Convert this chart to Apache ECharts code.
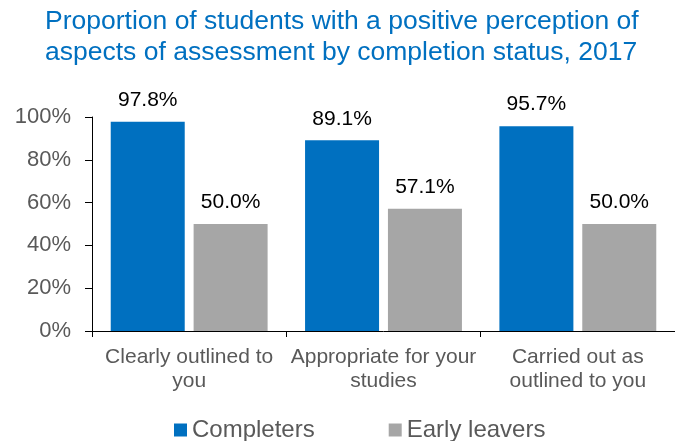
<!DOCTYPE html>
<html>
<head>
<meta charset="utf-8">
<script src="https://cdn.jsdelivr.net/npm/echarts@6/dist/echarts.min.js"></script>
<style>
  html, body { margin: 0; padding: 0; background: #ffffff; }
  #chart { width: 675px; height: 441px; }
</style>
</head>
<body>
<div id="chart"></div>
<script>
// Survey aspects (x categories)
const categories = ['Clearly outlined to\nyou', 'Appropriate for your\nstudies', 'Carried out as\noutlined to you'];
// Share of students with a positive perception (%)
const completers = [97.8, 89.1, 95.7];
const earlyLeavers = [50.0, 57.1, 50.0];
// Value axis ticks
const yTicks = [0, 20, 40, 60, 80, 100];

const FONT = 'Liberation Sans, Arial, sans-serif';
const chart = echarts.init(document.getElementById('chart'), null, { renderer: 'canvas' });

const labelStyle = {
  show: true,
  position: 'top',
  distance: 11,
  color: '#000000',
  fontSize: 21,
  fontFamily: FONT,
  formatter: p => p.value.toFixed(1) + '%'
};

chart.setOption({
  animation: false,
  backgroundColor: '#ffffff',
  title: {
    text: 'Proportion of students with a positive perception of\naspects of assessment by completion status, 2017',
    left: 45,
    top: 6,
    padding: 0,
    textStyle: {
      color: '#0070C0',
      fontSize: 26.5,
      fontWeight: 'normal',
      fontFamily: FONT,
      lineHeight: 31,
      align: 'center'
    }
  },
  legend: {
    top: 413,
    left: 169,
    itemWidth: 13,
    itemHeight: 13,
    itemGap: 74,
    icon: 'rect',
    textStyle: { color: '#595959', fontSize: 24, fontFamily: FONT },
    data: ['Completers', 'Early leavers']
  },
  grid: { left: 92, right: 0, top: 117, bottom: 110, containLabel: false },
  xAxis: {
    type: 'category',
    data: categories,
    axisLine: { lineStyle: { color: '#000000', width: 1 } },
    axisTick: { show: true, length: 6, lineStyle: { color: '#000000' } },
    axisLabel: {
      color: '#595959',
      fontSize: 21,
      fontFamily: FONT,
      lineHeight: 24,
      margin: 14,
      interval: 0
    }
  },
  yAxis: {
    type: 'value',
    min: yTicks[0],
    max: yTicks[yTicks.length - 1],
    interval: yTicks[1] - yTicks[0],
    axisLine: { show: true, lineStyle: { color: '#000000', width: 1 } },
    axisTick: { show: true, length: 7, lineStyle: { color: '#000000' } },
    splitLine: { show: false },
    axisLabel: {
      color: '#595959',
      fontSize: 22,
      fontFamily: FONT,
      margin: 21,
      formatter: '{value}%'
    }
  },
  series: [
    {
      name: 'Completers',
      type: 'bar',
      data: completers,
      barWidth: 74,
      barGap: '12%',
      itemStyle: { color: '#0070C0' },
      label: labelStyle
    },
    {
      name: 'Early leavers',
      type: 'bar',
      data: earlyLeavers,
      barWidth: 74,
      barGap: '12%',
      itemStyle: { color: '#A6A6A6' },
      label: labelStyle
    }
  ]
});
</script>
</body>
</html>
